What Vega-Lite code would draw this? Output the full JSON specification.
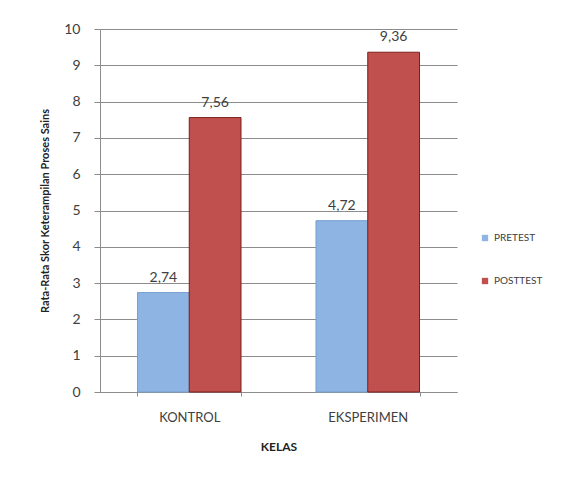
{
  "$schema": "https://vega.github.io/schema/vega-lite/v6.json",
  "autosize": "none",
  "width": 357,
  "height": 363,
  "padding": {"left": 100, "top": 29, "right": 125, "bottom": 87},
  "background": "white",
  "data": {"values": [
    {"kelas": "KONTROL", "tes": "PRETEST", "nilai": 2.74},
    {"kelas": "KONTROL", "tes": "POSTTEST", "nilai": 7.56},
    {"kelas": "EKSPERIMEN", "tes": "PRETEST", "nilai": 4.72},
    {"kelas": "EKSPERIMEN", "tes": "POSTTEST", "nilai": 9.36}
  ]},
  "encoding": {
    "x": {"field": "kelas", "type": "nominal", "sort": ["KONTROL", "EKSPERIMEN"],
      "scale": {"paddingInner": 0.42, "paddingOuter": 0.21},
      "axis": {"title": "KELAS", "labelAngle": 0, "tickBand": "extent", "labelPadding": 15,
        "titlePadding": 17, "domainColor": "#8c8c8c", "tickColor": "#8c8c8c", "tickSize": 4,
        "labelFont": "Lato", "labelFontSize": 13, "labelColor": "#404040",
        "titleFont": "Lato", "titleFontSize": 12, "titleFontWeight": "bold", "titleColor": "#222222"}},
    "xOffset": {"field": "tes", "type": "nominal", "sort": ["PRETEST", "POSTTEST"],
      "scale": {"paddingInner": 0, "paddingOuter": 0}},
    "y": {"field": "nilai", "type": "quantitative",
      "scale": {"domain": [0, 10], "nice": false},
      "axis": {"title": "Rata-Rata Skor Keterampilan Proses Sains", "values": [0,1,2,3,4,5,6,7,8,9,10],
        "labelOverlap": false,
        "grid": true, "gridColor": "#8c8c8c", "domainColor": "#8c8c8c", "tickColor": "#8c8c8c", "tickSize": 6,
        "labelPadding": 14, "titlePadding": 13,
        "labelFont": "Lato", "labelFontSize": 14, "labelColor": "#404040",
        "titleFont": "Lato", "titleFontSize": 11, "titleFontWeight": "bold", "titleColor": "#222222"}}
  },
  "layer": [
    {"mark": {"type": "bar", "strokeWidth": 1},
      "encoding": {
        "color": {"field": "tes", "type": "nominal", "sort": ["PRETEST", "POSTTEST"],
          "scale": {"domain": ["PRETEST", "POSTTEST"], "range": ["#8db4e2", "#c0504d"]},
          "legend": {"title": null, "orient": "none", "legendX": 380, "legendY": 204,
            "symbolType": "square", "symbolSize": 40, "symbolStrokeWidth": 0, "rowPadding": 33,
            "labelFont": "Lato", "labelFontSize": 10, "labelColor": "#404040"}},
        "stroke": {"field": "tes", "type": "nominal", "sort": ["PRETEST", "POSTTEST"],
          "scale": {"domain": ["PRETEST", "POSTTEST"], "range": ["#7a9fd0", "#7a1f1c"]},
          "legend": null}
      }},
    {"mark": {"type": "text", "baseline": "bottom", "dy": -8, "font": "Lato", "fontSize": 14, "color": "#404040"},
      "encoding": {"text": {"field": "nilai", "type": "quantitative", "format": ".2f"}}}
  ],
  "config": {
    "view": {"stroke": null},
    "locale": {"number": {"decimal": ",", "thousands": ".", "grouping": [3], "currency": ["", ""]}}
  }
}
